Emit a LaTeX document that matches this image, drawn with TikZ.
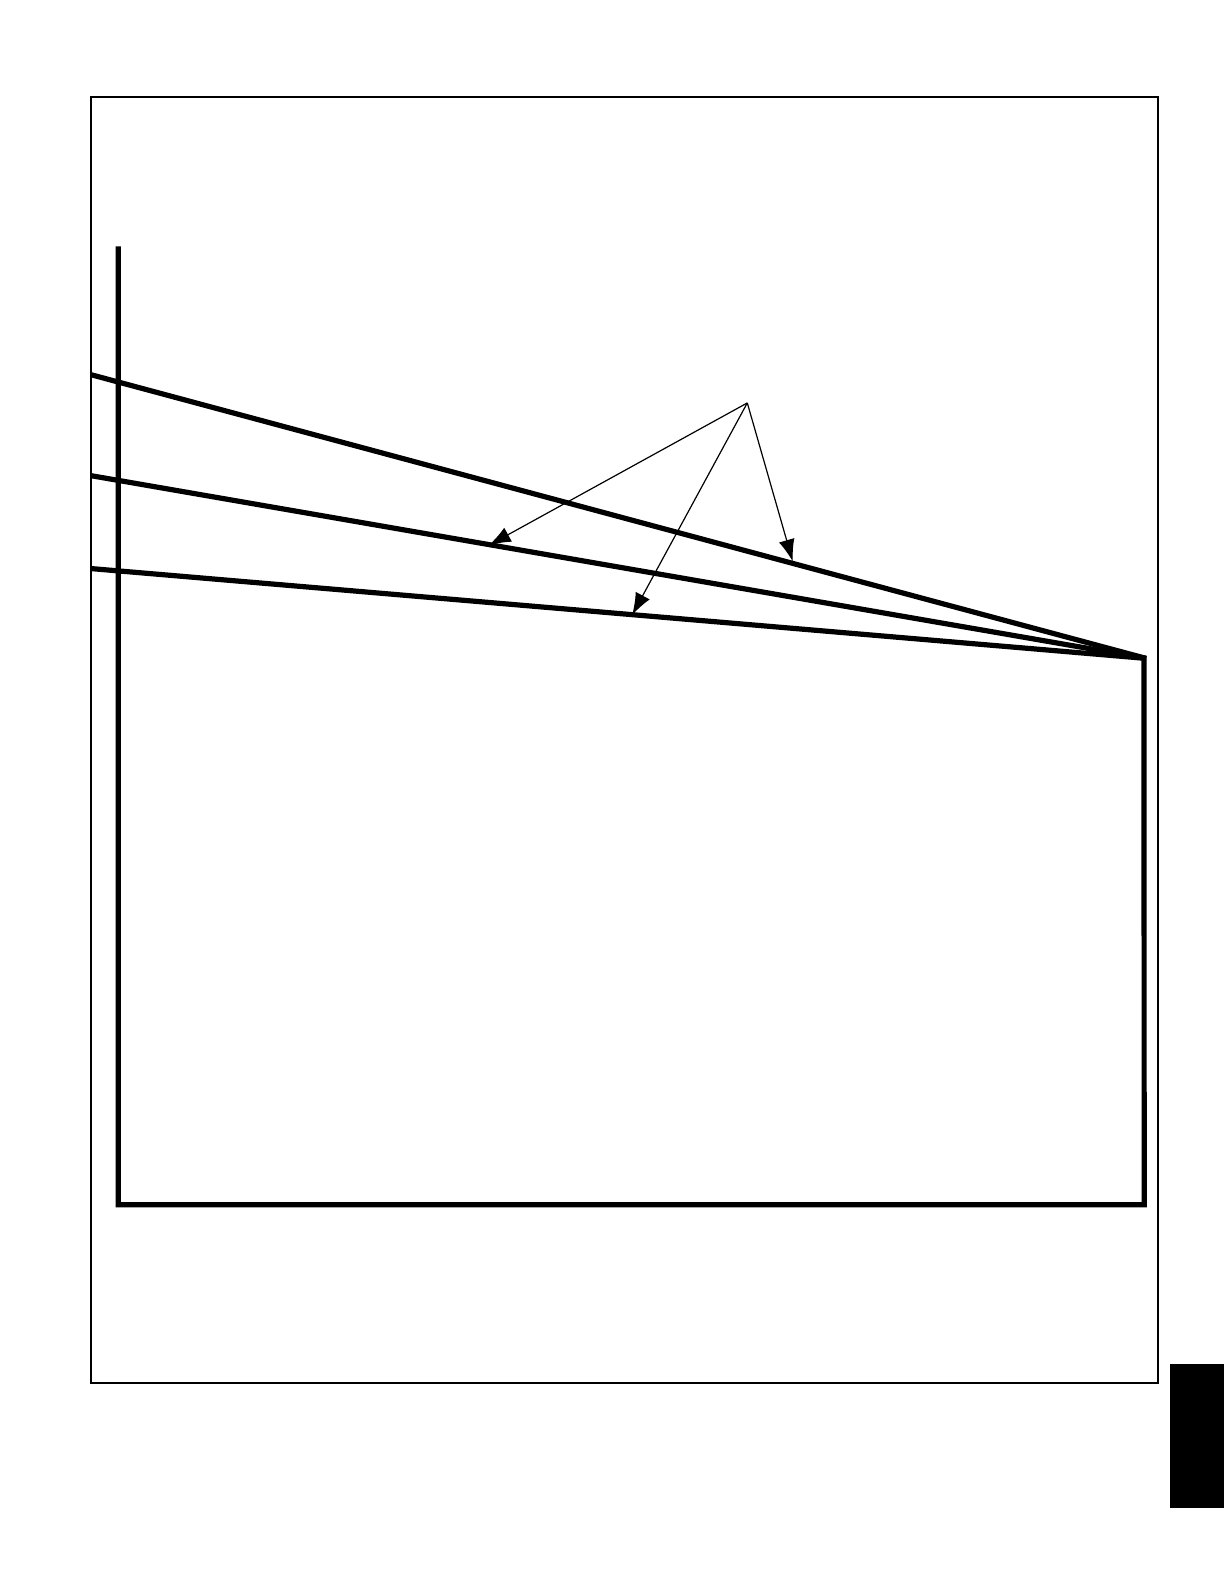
\documentclass[tikz,border=0pt]{standalone}
\usepackage{tikz}
\usetikzlibrary{arrows.meta}

\begin{document}
\begin{tikzpicture}[x=0.5pt,y=-0.5pt,
  roofline/.style={line width=2.6pt},
  leader/.style={line width=0.6pt,-{Latex[length=11pt,width=8pt]}}]
  \useasboundingbox (0,0) rectangle (1224,1584);
  \begin{scope}[scale=1.0097]
  % frame
  \draw[line width=1pt] (90,96) rectangle (1147,1370);
  % wall outline
  \coordinate (top) at (117,244);
  \coordinate (bl) at (117,1193);
  \coordinate (br) at (1133,1193);
  \coordinate (apex) at (1135,652);
  \draw[roofline] (top) -- (bl) -- (br) -- (1133,652);
  % sloped lines
  \coordinate (upper) at (90,371);
  \coordinate (middle) at (90,471);
  \coordinate (lower) at (90,563);
  \draw[roofline] (upper) -- (apex);
  \draw[roofline] (middle) -- (apex);
  \draw[roofline] (lower) -- (apex);
  % leaders
  \coordinate (src) at (740,399);
  \coordinate (hitA) at (484,540);
  \coordinate (hitB) at (626,609);
  \coordinate (hitC) at (785,556);
  \draw[leader] (src) -- (hitA);
  \draw[leader] (src) -- (hitB);
  \draw[leader] (src) -- (hitC);
  % tab
  \fill (1159,1351) rectangle (1212,1493);
  \end{scope}
\end{tikzpicture}
\end{document}
